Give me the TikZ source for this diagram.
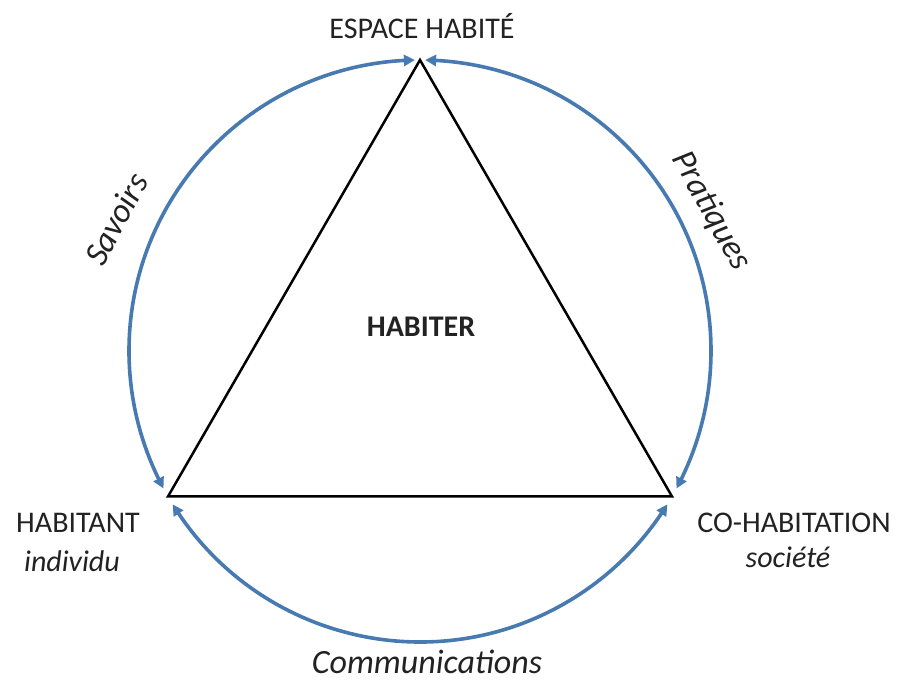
\documentclass[tikz,border=0pt]{standalone}
\usepackage{fontspec}
\setmainfont{Carlito}
\usetikzlibrary{arrows.meta,bending,calc}
\definecolor{arcblue}{RGB}{72,122,178}
\definecolor{txt}{RGB}{34,34,34}
\begin{document}
\begin{tikzpicture}[x=1pt,y=1pt,
  lbl/.style={font=\fontsize{30}{36}\selectfont, text=txt, inner sep=0pt},
  blbl/.style={font=\fontsize{30}{36}\selectfont\bfseries, text=txt, inner sep=0pt},
  ilbl/.style={font=\fontsize{30}{36}\selectfont\itshape, text=txt, inner sep=0pt},
  arclbl/.style={font=\fontsize{34}{40}\selectfont\itshape, text=txt, inner sep=0pt},
  tri/.style={line width=2.5pt, draw=black, line join=miter},
  rel/.style={line width=3.6pt, draw=arcblue,
    {Triangle[length=11pt,width=11pt,bend]}-{Triangle[length=11pt,width=11pt,bend]}}
]
\fill[white] (0,0) rectangle (898,685);
\useasboundingbox (0,0) rectangle (898,685);

\coordinate (C) at (420,334);
\coordinate (top) at ($(C)+(90:291)$);
\coordinate (bl) at ($(C)+(210:291)$);
\coordinate (br) at ($(C)+(330:291)$);

\draw[tri] (top) -- (bl) -- (br) -- cycle;

\coordinate (s1) at ($(C)+(91:291)$);
\coordinate (s2) at ($(C)+(89:291)$);
\coordinate (s3) at ($(C)+(211.8:291)$);
\draw[rel] (s1) arc[start angle=91,end angle=208.2,radius=291];
\draw[rel] (s2) arc[start angle=89,end angle=-28.2,radius=291];
\draw[rel] (s3) arc[start angle=211.8,end angle=328.2,radius=291];

\node[lbl] (espace) at (422,659) {ESPACE HABITÉ};
\node[lbl] (habitant) at (78,162) {HABITANT};
\node[ilbl] (individu) at (72,124) {individu};
\node[lbl] (cohab) at (794,162) {CO-HABITATION};
\node[ilbl] (societe) at (788,128) {société};
\node[blbl] (habiter) at (421,358) {HABITER};
\node[arclbl] (comm) at (427,23) {Communications};
\node[arclbl, rotate=62] (savoirs) at (116,466) {Savoirs};
\node[arclbl, rotate=-61] (pratiques) at (711,474) {Pratiques};
\end{tikzpicture}
\end{document}
